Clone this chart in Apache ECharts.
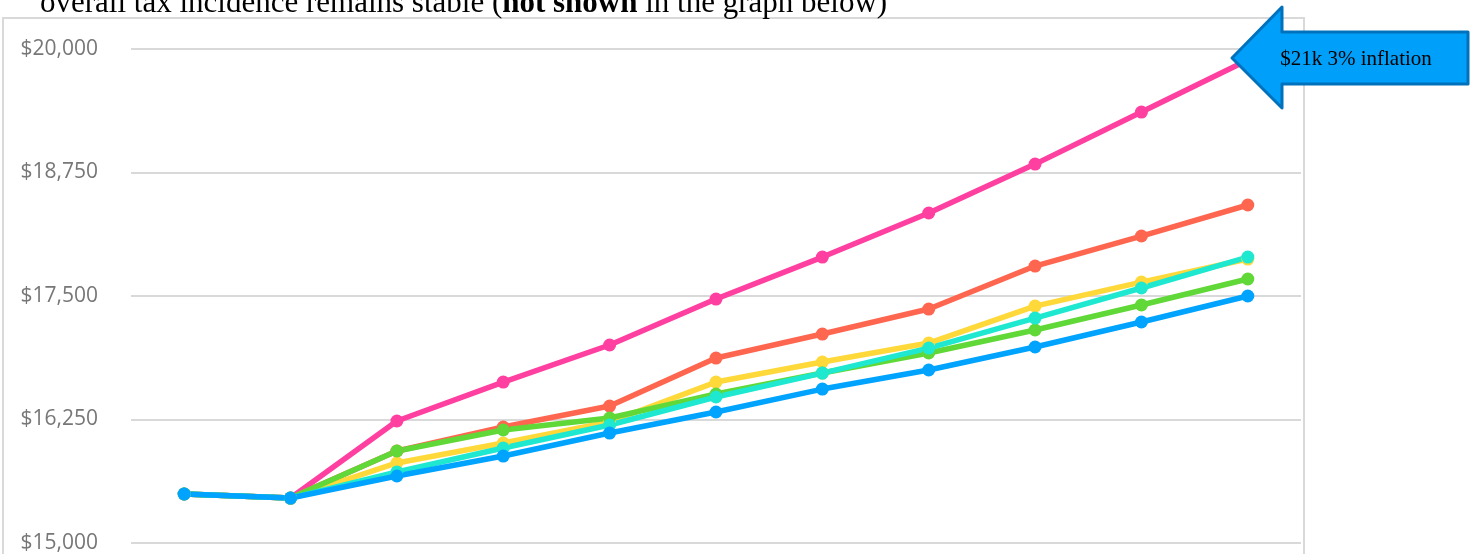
<!DOCTYPE html>
<html><head><meta charset="utf-8">
<script src="https://cdn.jsdelivr.net/npm/echarts@6/dist/echarts.min.js"></script>
<style>html,body{margin:0;padding:0;background:#fff}#c{width:1473px;height:554px}</style>
</head><body><div id="c"></div>
<script>
const categories = ['1','2','3','4','5','6','7','8','9','10','11'];
const yTicks = [15000, 16250, 17500, 18750, 20000];
const pink   = [15496, 15455, 16235, 16629, 17004, 17469, 17894, 18340, 18835, 19362, 19888];
const orange = [15496, 15455, 15931, 16174, 16386, 16872, 17115, 17368, 17803, 18107, 18421];
const yellow = [15496, 15455, 15810, 16012, 16225, 16629, 16832, 17024, 17398, 17641, 17874];
const green  = [15496, 15455, 15931, 16144, 16265, 16508, 16720, 16923, 17156, 17409, 17672];
const teal   = [15496, 15455, 15719, 15961, 16194, 16478, 16720, 16973, 17277, 17581, 17894];
const blue   = [15496, 15455, 15678, 15880, 16113, 16326, 16558, 16751, 16984, 17237, 17500];
const calloutText = '$21k 3% inflation';

const seriesDefs = [
  ['pink', pink, '#FF40A0'],
  ['orange', orange, '#FF6650'],
  ['yellow', yellow, '#FFD83A'],
  ['green', green, '#60D838'],
  ['teal', teal, '#1EE8D0'],
  ['blue', blue, '#00A4FF']
];

const chart = echarts.init(document.getElementById('c'));
chart.setOption({
  animation: false,
  grid: {left: 131, right: 172, top: 49, bottom: 11},
  xAxis: {
    type: 'category', data: categories, boundaryGap: true,
    axisLine: {show: false}, axisTick: {show: false}, axisLabel: {show: false}, splitLine: {show: false}
  },
  yAxis: {
    type: 'value', min: yTicks[0], max: yTicks[yTicks.length-1], interval: 1250,
    axisLine: {show: false}, axisTick: {show: false},
    axisLabel: {
      color: '#777777', fontSize: 21, fontFamily: 'Open Sans', margin: 33,
      formatter: v => '$' + v.toLocaleString('en-US')
    },
    splitLine: {lineStyle: {color: '#d9d9d9', width: 2}}
  },
  graphic: [
    {type: 'rect', silent: true, z: -1, shape: {x: 3, y: 18, width: 1301, height: 560},
     style: {fill: 'none', stroke: '#d9d9d9', lineWidth: 2}},
    {type: 'text', left: 40, top: -12, style: {
      rich: {n: {fontFamily: 'Liberation Serif', fontSize: 31, fill: '#000'},
             b: {fontFamily: 'Liberation Serif', fontSize: 31, fontWeight: 'bold', fill: '#000'}},
      text: '{n|overall tax incidence remains stable (}{b|not shown}{n| in the graph below)}'
    }},
    {type: 'polygon', z: 100, shape: {points: [[1232,58],[1282,7],[1282,32],[1468,32],[1468,84],[1282,84],[1282,108]]},
     style: {fill: '#00A0FA', stroke: '#0071BC', lineWidth: 3, lineJoin: 'round'}},
    {type: 'text', z: 101, x: 1356, y: 59, style: {text: calloutText, fontFamily: 'Liberation Serif', fontSize: 21,
      fill: '#000', align: 'center', verticalAlign: 'middle'}}
  ],
  series: seriesDefs.map(([name, data, color]) => ({
    name, type: 'line', data, symbol: 'circle', symbolSize: 13,
    lineStyle: {color, width: 5.5}, itemStyle: {color}
  }))
});
</script></body></html>
